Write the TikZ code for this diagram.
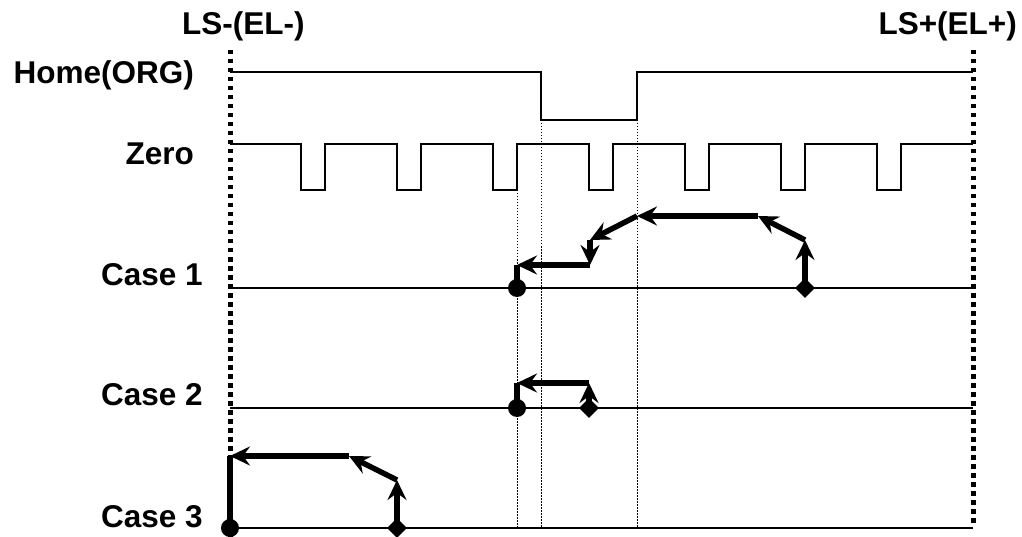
\documentclass[tikz,border=0pt]{standalone}
\usepackage{fontspec}
\setmainfont{Liberation Sans}
\usetikzlibrary{arrows.meta,shapes.geometric}
\begin{document}
\begin{tikzpicture}[x=1pt,y=-1pt,
  lbl/.style={font=\fontsize{31.5}{36}\selectfont\bfseries, inner sep=0pt},
  sig/.style={line width=1.5pt, line join=miter},
  limit/.style={line width=5pt, dash pattern=on 4.5pt off 4.5pt},
  guide/.style={line width=1pt, dash pattern=on 1.5pt off 1.5pt},
  mv/.style={line width=5.5pt, -{Stealth[length=20pt,width=19pt,inset=7pt]}},
  stub/.style={line width=5.5pt},
  startdot/.style={circle, fill=black, inner sep=0pt, minimum size=18pt},
  enddia/.style={diamond, fill=black, inner sep=0pt, minimum size=20pt}]
\useasboundingbox (0,0) rectangle (1022,537);
% labels
\node[lbl, anchor=base west] (lsm) at (182,35) {LS-(EL-)};
\node[lbl, anchor=base east] (lsp) at (1017,35) {LS+(EL+)};
\node[lbl, anchor=base east] (home) at (194,84) {Home(ORG)};
\node[lbl, anchor=base east] (zero) at (194,165) {Zero};
\node[lbl, anchor=base east] (c1) at (203,285) {Case 1};
\node[lbl, anchor=base east] (c2) at (203,405) {Case 2};
\node[lbl, anchor=base east] (c3) at (203,527) {Case 3};
% limit lines
\coordinate (lt) at (230,50); \coordinate (lb) at (230,537);
\coordinate (rt) at (973,50); \coordinate (rb) at (973,527);
\draw[limit] (lt) -- (lb);
\draw[limit] (rt) -- (rb);
% home signal
\draw[sig] (230,72) -- (541,72) -- (541,120) -- (637,120) -- (637,72) -- (973,72);
% zero signal
\draw[sig] (230,144)
  \foreach \x in {301,397,493,589,685,781,877} { -- (\x,144) -- (\x,190) -- (\x+24,190) -- (\x+24,144) }
  -- (973,144);
% guides
\draw[guide] (517,190) -- (517,528);
\draw[guide] (541,120) -- (541,528);
\draw[guide] (637,120) -- (637,528);
% case lines
\draw[sig] (230,288) -- (973,288);
\draw[sig] (230,408) -- (973,408);
\draw[sig] (230,528) -- (973,528);
% case 1
\coordinate (a0) at (805,288); \coordinate (a1) at (805,240);
\coordinate (a2) at (758,216); \coordinate (a3) at (637,216);
\coordinate (a4) at (590,240); \coordinate (a5) at (590,265);
\coordinate (a6) at (517,265); \coordinate (a7) at (517,288);
\draw[mv] (a0) -- (a1);
\draw[mv] (a1) -- (a2);
\draw[mv] (a2) -- (a3);
\draw[mv] (a3) -- (a4);
\draw[mv] (a4) -- (a5);
\draw[mv] (a5) -- (a6);
\draw[stub] (a6) -- (a7);
\node[startdot] (s1) at (a7) {};
\node[enddia] (e1) at (a0) {};
% case 2
\coordinate (b0) at (589,408); \coordinate (b1) at (589,383);
\coordinate (b2) at (517,383); \coordinate (b3) at (517,408);
\draw[mv] (b0) -- (b1);
\draw[mv] (b1) -- (b2);
\draw[stub] (b2) -- (b3);
\node[startdot] (s2) at (b3) {};
\node[enddia] (e2) at (b0) {};
% case 3
\coordinate (d0) at (397,528); \coordinate (d1) at (397,480);
\coordinate (d2) at (349,456); \coordinate (d3) at (230,456);
\coordinate (d4) at (230,528);
\draw[mv] (d0) -- (d1);
\draw[mv] (d1) -- (d2);
\draw[mv] (d2) -- (d3);
\draw[stub] (d3) -- (d4);
\node[startdot] (s3) at (d4) {};
\node[enddia] (e3) at (d0) {};
\end{tikzpicture}
\end{document}
